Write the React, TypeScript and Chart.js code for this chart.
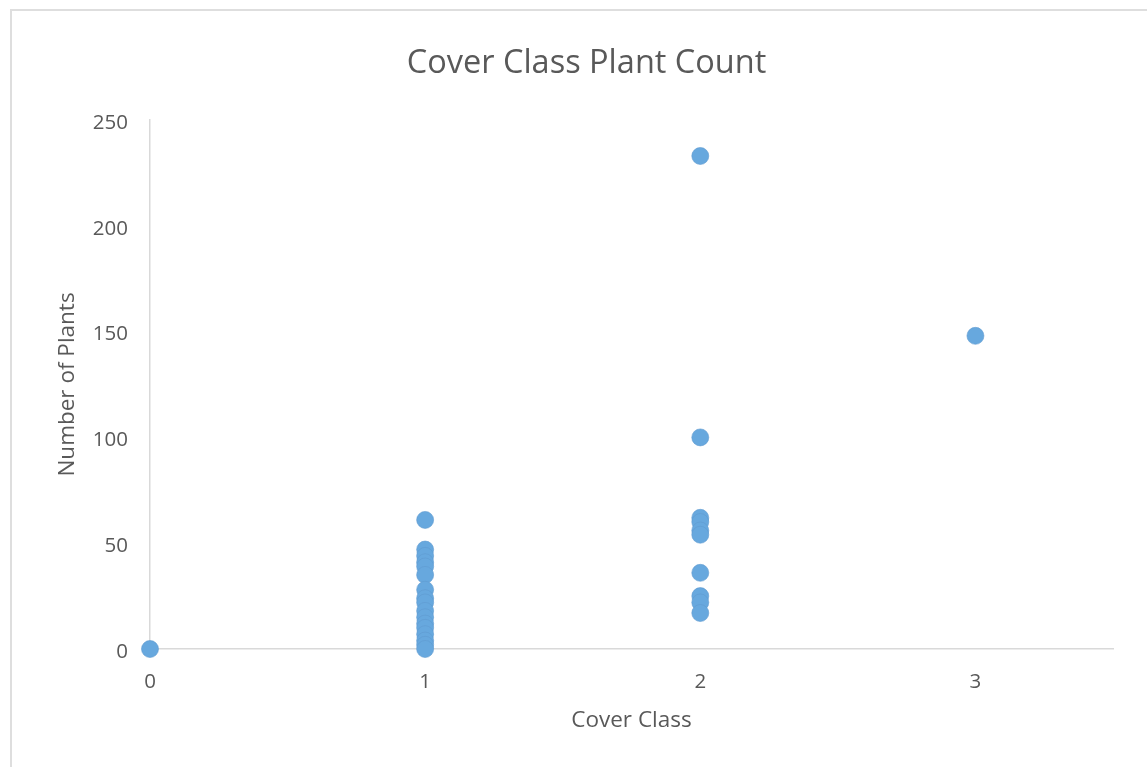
import React, { useEffect, useRef } from "react";
import { Chart, registerables } from "chart.js";

Chart.register(...registerables);

const coverClass: number[] = [
  0,
  1, 1, 1, 1, 1, 1, 1, 1, 1, 1, 1, 1, 1, 1, 1, 1, 1,
  2, 2, 2, 2, 2, 2, 2, 2, 2, 2,
  3,
];
const plantCount: number[] = [
  0,
  61, 47, 44, 41, 39, 35, 28, 24, 22, 18, 15, 12, 10, 7, 4, 2, 0,
  233, 100, 62, 60, 56, 54, 36, 25, 22, 17,
  148,
];
const xTicks: number[] = [0, 1, 2, 3];
const yTicks: number[] = [0, 50, 100, 150, 200, 250];

const TEXT = "#595959";
const AXIS = "#d9d9d9";
const POINT = "#67A8DE";
const FONT = "'Open Sans', 'Noto Sans', sans-serif";

const W = 1173;
const H = 767;
const PAD_LEFT = 60;

export default function App() {
  const ref = useRef<HTMLCanvasElement | null>(null);

  useEffect(() => {
    if (!ref.current) return;
    const data = coverClass.map((x, i) => ({ x, y: plantCount[i] }));
    const chart = new Chart(ref.current, {
      type: "scatter",
      data: {
        datasets: [
          {
            label: "Number of Plants",
            data,
            backgroundColor: POINT,
            borderColor: "#5f9bd0",
            borderWidth: 0.6,
            pointRadius: 8.5,
            pointHoverRadius: 8.5,
            clip: false,
          } as any,
        ],
      },
      options: {
        responsive: false,
        animation: false,
        layout: { padding: { left: PAD_LEFT, right: W - 1113, top: 0, bottom: 0 } },
        plugins: {
          legend: { display: false },
          tooltip: { enabled: false },
          title: {
            display: true,
            text: "Cover Class Plant Count",
            color: TEXT,
            font: { family: FONT, size: 32.5, weight: "normal" },
            padding: { top: 44, bottom: 37 },
          },
        },
        scales: {
          x: {
            type: "linear",
            min: 0,
            max: 3.5,
            afterFit: (s: any) => {
              s.height = H - 649;
            },
            afterBuildTicks: (s: any) => {
              s.ticks = xTicks.map((v) => ({ value: v }));
            },
            grid: { display: false, drawTicks: false },
            border: { display: true, color: AXIS, width: 1.5 },
            ticks: {
              color: TEXT,
              font: { family: FONT, size: 20.5 },
              padding: 21,
              includeBounds: false,
            },
            title: {
              display: true,
              text: "Cover Class",
              color: TEXT,
              font: { family: FONT, size: 22.5 },
              padding: { top: 0, bottom: 33 },
            },
          },
          y: {
            type: "linear",
            min: 0,
            max: 250,
            afterFit: (s: any) => {
              s.width = 150 - PAD_LEFT;
            },
            afterBuildTicks: (s: any) => {
              s.ticks = yTicks.map((v) => ({ value: v }));
            },
            grid: { display: false, drawTicks: false },
            border: { display: true, color: AXIS, width: 1.5 },
            ticks: {
              color: TEXT,
              font: { family: FONT, size: 20.5 },
              padding: 22,
              labelOffset: 3,
            },
            title: {
              display: true,
              text: "Number of Plants",
              color: TEXT,
              font: { family: FONT, size: 22.5 },
              padding: { top: 68 - PAD_LEFT - 13.5, bottom: 0 },
            },
          },
        },
      },
    });
    return () => chart.destroy();
  }, []);

  return (
    <div style={{ position: "absolute", left: 0, top: 0, width: 1147, height: H, background: "#fff", overflow: "hidden" }}>
      <div
        style={{
          position: "absolute",
          left: 10,
          top: 9,
          width: 1200,
          height: 800,
          borderLeft: "2px solid #dedede",
          borderTop: "2px solid #dedede",
        }}
      />
      <canvas ref={ref} width={W} height={H} style={{ position: "absolute", left: 0, top: 0, width: W, height: H }} />
    </div>
  );
}
